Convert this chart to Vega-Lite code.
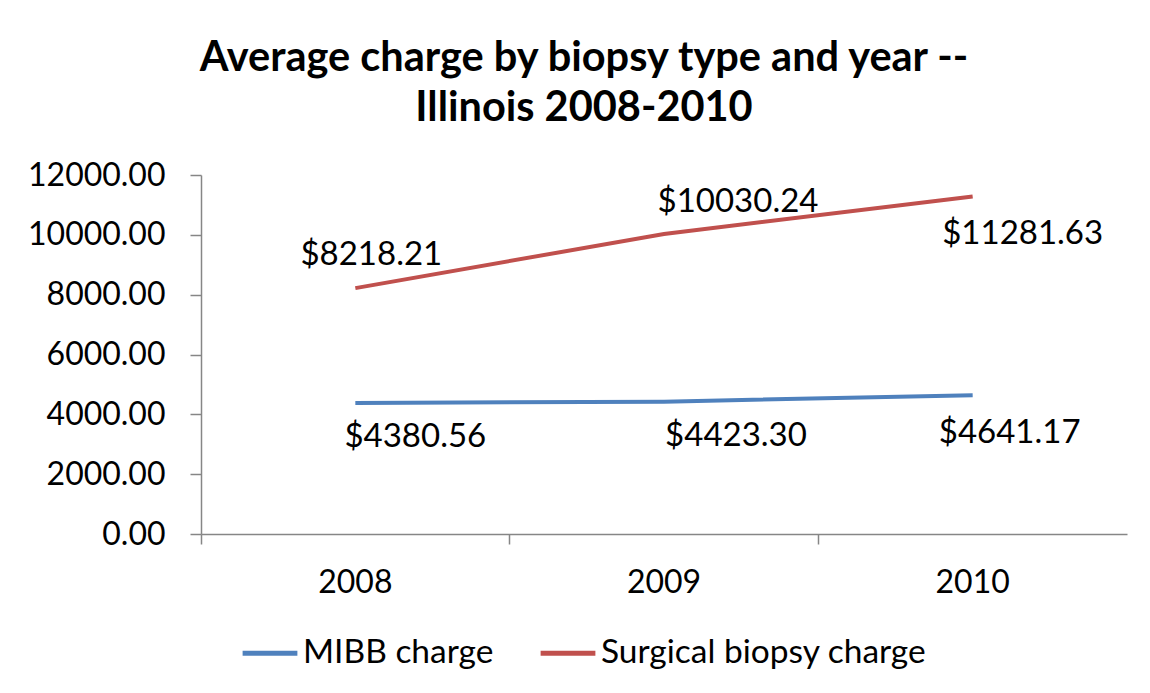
{
  "$schema": "https://vega.github.io/schema/vega-lite/v6.json",
  "autosize": {"type": "none"},
  "width": 926,
  "height": 359,
  "padding": {"left": 201, "top": 175, "right": 23, "bottom": 159},
  "background": "white",
  "title": {
    "text": ["Average charge by biopsy type and year --", "Illinois 2008-2010"],
    "font": "Lato",
    "fontSize": 41.5,
    "fontWeight": "bold",
    "color": "black",
    "anchor": "middle",
    "dx": -80,
    "offset": 30,
    "lineHeight": 50
  },
  "config": {
    "font": "Lato",
    "view": {"stroke": null},
    "axis": {"grid": false, "domainColor": "#868686", "tickColor": "#868686", "labelColor": "black", "labelFont": "Lato", "domainWidth": 1.5, "tickWidth": 1.5}
  },
  "data": {
    "values": [
      {"year": "2008", "series": "MIBB charge", "value": 4380.56, "label": "$4380.56"},
      {"year": "2009", "series": "MIBB charge", "value": 4423.30, "label": "$4423.30"},
      {"year": "2010", "series": "MIBB charge", "value": 4641.17, "label": "$4641.17"},
      {"year": "2008", "series": "Surgical biopsy charge", "value": 8218.21, "label": "$8218.21"},
      {"year": "2009", "series": "Surgical biopsy charge", "value": 10030.24, "label": "$10030.24"},
      {"year": "2010", "series": "Surgical biopsy charge", "value": 11281.63, "label": "$11281.63"}
    ]
  },
  "encoding": {
    "x": {
      "field": "year", "type": "ordinal",
      "scale": {"type": "band", "paddingInner": 0, "paddingOuter": 0},
      "axis": {"title": null, "labelAngle": 0, "labelFontSize": 32, "tickSize": 10, "labelPadding": 23, "bandPosition": 0}
    },
    "y": {
      "field": "value", "type": "quantitative",
      "scale": {"domain": [0, 12000]},
      "axis": {"title": null, "format": ".2f", "values": [0, 2000, 4000, 6000, 8000, 10000, 12000], "labelFontSize": 32, "tickSize": 11, "labelPadding": 25}
    }
  },
  "layer": [
    {
      "mark": {"type": "line", "strokeWidth": 4},
      "encoding": {
        "color": {
          "field": "series", "type": "nominal",
          "scale": {"domain": ["MIBB charge", "Surgical biopsy charge"], "range": ["#4F81BD", "#C0504D"]},
          "legend": {
            "title": null, "orient": "none", "direction": "horizontal",
            "legendX": 39, "legendY": 448,
            "symbolType": "stroke", "symbolSize": 3000, "symbolStrokeWidth": 5,
            "labelFontSize": 33.5, "labelColor": "black", "labelFont": "Lato",
            "columnPadding": 36, "labelOffset": 3, "labelLimit": 600
          }
        }
      }
    },
    {
      "transform": [{"filter": "datum.series == 'Surgical biopsy charge' && datum.year == '2008'"}],
      "mark": {"type": "text", "fontSize": 33, "dy": -33, "dx": 16, "color": "black", "font": "Lato"},
      "encoding": {"text": {"field": "label"}}
    },
    {
      "transform": [{"filter": "datum.series == 'Surgical biopsy charge' && datum.year == '2009'"}],
      "mark": {"type": "text", "fontSize": 33, "dy": -32, "dx": 74, "color": "black", "font": "Lato"},
      "encoding": {"text": {"field": "label"}}
    },
    {
      "transform": [{"filter": "datum.series == 'Surgical biopsy charge' && datum.year == '2010'"}],
      "mark": {"type": "text", "fontSize": 33, "dy": 38, "dx": 50, "color": "black", "font": "Lato"},
      "encoding": {"text": {"field": "label"}}
    },
    {
      "transform": [{"filter": "datum.series == 'MIBB charge' && datum.year == '2008'"}],
      "mark": {"type": "text", "fontSize": 33, "dy": 34, "dx": 60, "color": "black", "font": "Lato"},
      "encoding": {"text": {"field": "label"}}
    },
    {
      "transform": [{"filter": "datum.series == 'MIBB charge' && datum.year == '2009'"}],
      "mark": {"type": "text", "fontSize": 33, "dy": 34, "dx": 72, "color": "black", "font": "Lato"},
      "encoding": {"text": {"field": "label"}}
    },
    {
      "transform": [{"filter": "datum.series == 'MIBB charge' && datum.year == '2010'"}],
      "mark": {"type": "text", "fontSize": 33, "dy": 38, "dx": 37, "color": "black", "font": "Lato"},
      "encoding": {"text": {"field": "label"}}
    }
  ]
}
